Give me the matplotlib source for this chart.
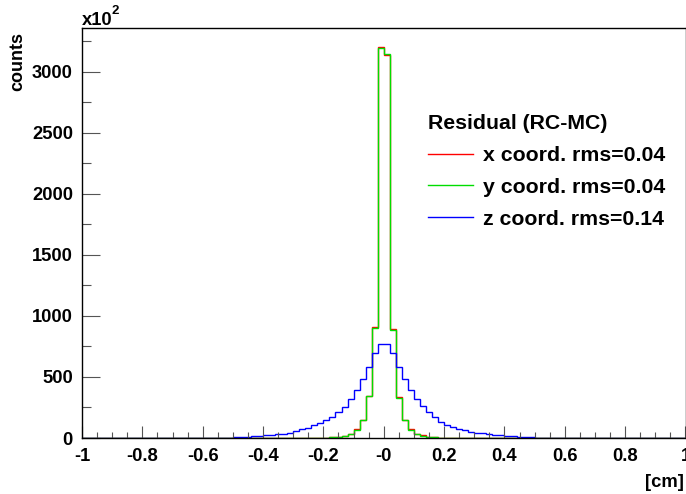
import numpy as np
import matplotlib
matplotlib.use("Agg")
import matplotlib.pyplot as plt
from matplotlib.lines import Line2D

# ---------------- data (counts in units of 10^2) ----------------
x_min, x_max, n_bins = -1.0, 1.0, 100
fill_lo, fill_hi = -0.5, 0.5   # region where the histograms were filled

# 50 bins from -0.50 to 0.50 (bin width 0.02)
x_coord = [1, 1, 1, 1, 1, 1, 1, 1, 1, 1,
           2, 2, 3, 3, 4, 4, 6, 10, 19, 36,
           70, 146, 344, 910, 3205,
           3137, 895, 333, 149, 72, 36, 21, 12, 7, 4,
           3, 2, 2, 2, 1, 1, 1, 1, 1, 1, 1, 1, 1, 1, 1]
y_coord = [1, 1, 1, 1, 1, 1, 1, 1, 1, 1,
           2, 2, 3, 3, 4, 4, 6, 10, 18, 35,
           68, 145, 342, 904, 3197,
           3148, 883, 331, 146, 68, 35, 20, 11, 6, 4,
           3, 2, 2, 2, 1, 1, 1, 1, 1, 1, 1, 1, 1, 1, 1]
z_coord = [8, 10, 12, 14, 17, 21, 25, 29, 36, 45,
           58, 72, 86, 103, 121, 145, 175, 210, 257, 317,
           393, 481, 579, 694, 768,
           768, 694, 579, 481, 390, 317, 260, 210, 171, 134,
           107, 88, 77, 66, 52, 44, 38, 30, 25, 21, 17, 15, 12, 11, 9]

series_labels = ["x coord. rms=0.04", "y coord. rms=0.04", "z coord. rms=0.14"]
series_colors = ["#ff0000", "#00dd00", "#0000ff"]
legend_title = "Residual (RC-MC)"

x_ticks = [-1, -0.8, -0.6, -0.4, -0.2, 0, 0.2, 0.4, 0.6, 0.8, 1]
x_tick_labels = ["-1", "-0.8", "-0.6", "-0.4", "-0.2", "-0", "0.2", "0.4", "0.6", "0.8", "1"]
y_ticks = [0, 500, 1000, 1500, 2000, 2500, 3000]
y_tick_labels = ["0", "500", "1000", "1500", "2000", "2500", "3000"]
y_max = 3360

# ---------------- figure ----------------
plt.rcParams['font.family'] = ['Liberation Sans', 'DejaVu Sans']
plt.rcParams['font.weight'] = 'bold'

W, H = 686, 494
fig = plt.figure(figsize=(W / 100, H / 100), dpi=100)
L, R, T, B = 82, 685.5, 28, 438
ax = fig.add_axes([L / W, 1 - B / H, (R - L) / W, (B - T) / H])

edges = np.linspace(x_min, x_max, n_bins + 1)
centers = 0.5 * (edges[:-1] + edges[1:])
mask = (centers > fill_lo) & (centers < fill_hi)

for vals, col in zip([x_coord, y_coord, z_coord], series_colors):
    full = np.zeros(n_bins)
    full[mask] = vals
    ax.stairs(full, edges, color=col, lw=1.0, baseline=None)

ax.set_xlim(x_min, x_max)
ax.set_ylim(0, y_max)

ax.set_xticks(x_ticks)
ax.set_xticklabels(x_tick_labels, fontsize=13.2, fontweight='bold')
ax.set_yticks(y_ticks)
ax.set_yticklabels(y_tick_labels, fontsize=13.2, fontweight='bold')
ax.set_xticks(np.arange(-1, 1.0001, 0.05), minor=True)
ax.set_yticks(np.arange(0, y_max, 250), minor=True)

ax.tick_params(axis='x', which='major', direction='in', length=8.8, width=0.8,
               color='#555555', pad=7.5)
ax.tick_params(axis='x', which='minor', direction='in', length=4.6, width=0.8,
               color='#555555')
ax.tick_params(axis='y', which='major', direction='in', length=13, width=0.8,
               color='#555555', pad=6.5)
ax.tick_params(axis='y', which='minor', direction='in', length=6.5, width=0.8,
               color='#555555')
for s in ax.spines.values():
    s.set_linewidth(1.0)
    s.set_color('black')

# axis texts
fig.text(18 / W, 1 - 32 / H, "counts", rotation=90, ha='center', va='top',
         fontsize=13, fontweight='bold')
fig.text(684 / W, 1 - 487 / H, "[cm]", ha='right', va='baseline',
         fontsize=13.2, fontweight='bold')
fig.text(82 / W, 1 - 25 / H, "x10", ha='left', va='baseline',
         fontsize=13.2, fontweight='bold')
fig.text(111.5 / W, 1 - 14 / H, "2", ha='left', va='baseline',
         fontsize=9.5, fontweight='bold')

handles = [Line2D([], [], color=c, lw=1.0) for c in series_colors]
leg = ax.legend(handles, series_labels, title=legend_title, loc='upper left',
                bbox_to_anchor=((431 - L) / (R - L) - 0.012, 1 - (110 - T) / (B - T)),
                frameon=False, prop={'size': 15.3, 'weight': 'bold'},
                title_fontproperties={'size': 15.3, 'weight': 'bold'},
                alignment='left', handlelength=2.1, handletextpad=0.5,
                labelspacing=0.6, borderaxespad=0, borderpad=0.2)

fig.savefig("out.png", dpi=100)
